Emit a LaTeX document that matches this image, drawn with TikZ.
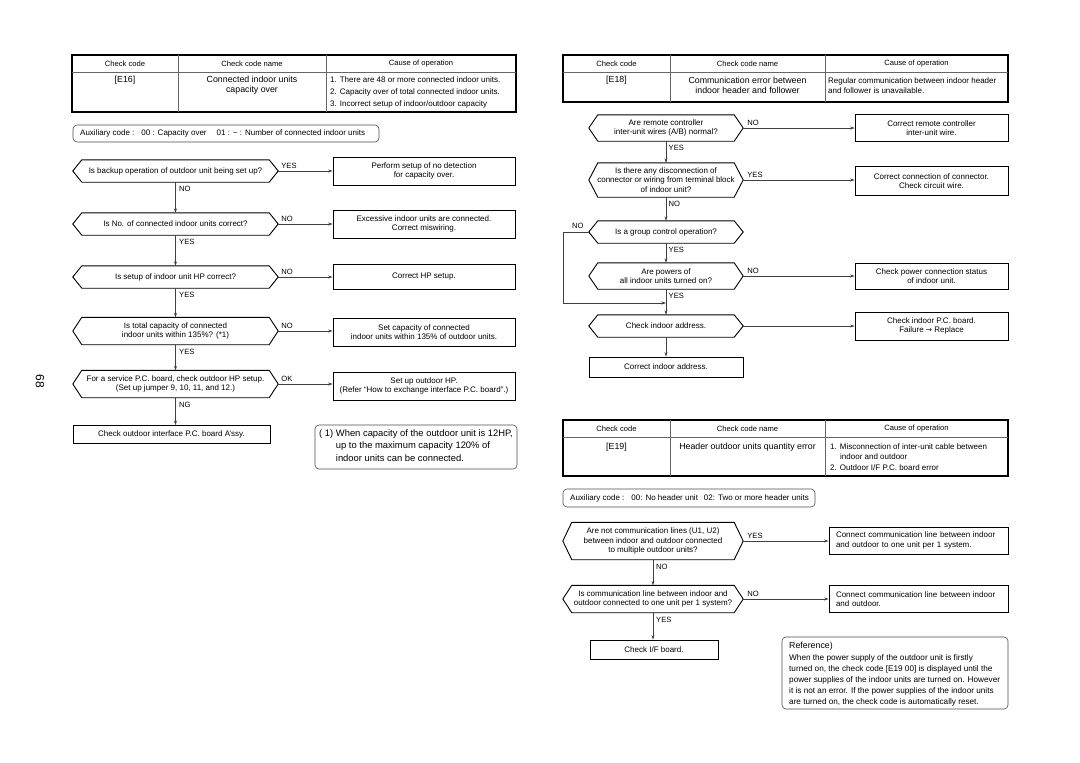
\documentclass[tikz,border=0pt]{standalone}
\usepackage{fontspec}
\setmainfont{Liberation Sans}
\newfontfamily\dejavu{DejaVu Sans}
\usetikzlibrary{arrows.meta}
\newcommand{\fa}{\fontsize{8}{9.6}\selectfont}
\newcommand{\fh}{\fontsize{7.6}{9.2}\selectfont}
\newcommand{\fb}{\fontsize{8.8}{10.4}\selectfont}
\newcommand{\fc}{\fontsize{9.4}{12.4}\selectfont}
\newcommand{\fr}{\fontsize{8.2}{11}\selectfont}
\tikzset{
 box/.style={draw, line width=0.9pt, align=center, font=\fa, inner sep=1pt},
 hexbox/.style={align=center, font=\fa, inner sep=1pt},
 hexline/.style={line width=0.9pt, line join=miter},
 conn/.style={draw=black!75, line width=0.55pt, -{Stealth[length=4.5pt,width=3pt]}},
 lbl/.style={font=\fh, inner sep=0pt},
 txt/.style={font=\fa, inner sep=0pt},
 htxt/.style={font=\fh, inner sep=0pt},
 nametxt/.style={font=\fb, inner sep=0pt, align=center},
 tabouter/.style={line width=1.1pt},
 tabinner/.style={line width=0.5pt, draw=black!60},
 rbox/.style={draw=black!70, line width=0.6pt, rounded corners=4pt},
}
\newcommand{\hexa}[5]{%
  \node[hexbox, minimum width=#3, minimum height=#4] (#1) at (#2) {#5};
  \draw[hexline] (#1.west) -- ([xshift=9pt]#1.north west) -- ([xshift=-9pt]#1.north east)
    -- (#1.east) -- ([xshift=-9pt]#1.south east) -- ([xshift=9pt]#1.south west) -- cycle;
}
\begin{document}
\begin{tikzpicture}[x=1pt,y=-1pt]
\useasboundingbox (0,0) rectangle (1080,763);

% page number
\node[rotate=-90, font=\fontsize{12}{12}\selectfont, inner sep=0pt] (pg) at (40,381) {68};

% ---------------- Left table E16
\draw[tabouter] (72,55) rectangle (516,112);
\draw[tabinner] (72,72) -- (516,72);
\draw[tabinner] (178,55) -- (178,112);
\draw[tabinner] (326,55) -- (326,112);
\node[htxt] (lh1) at (125,63.5) {Check code};
\node[htxt] (lh2) at (252,63.5) {Check code name};
\node[htxt] (lh3) at (421,63.5) {Cause of operation};
\node[nametxt] (lc1) at (125,80) {[E16]};
\node[nametxt] (lc2) at (252,85.5) {Connected indoor units\\capacity over};
\node[txt, anchor=west] (lc3) at (330,80) {1. There are 48 or more connected indoor units.};
\node[txt, anchor=west] (lc4) at (330,92) {2. Capacity over of total connected indoor units.};
\node[txt, anchor=west] (lc5) at (330,104) {3. Incorrect setup of indoor/outdoor capacity};

% aux box 1
\draw[rbox] (73,125) rectangle (379,142);
\node[txt, anchor=west] (aux1) at (80,133.5) {Auxiliary code :\hspace{7pt}00 : Capacity over\hspace{10pt}01 : \textasciitilde{} : Number of connected indoor units};

% ---------------- Left flowchart
\hexa{d1}{175.5,171}{205}{22}{Is backup operation of outdoor unit being set up?}
\node[box, minimum width=182, minimum height=28] (b1) at (424,171) {Perform setup of no detection\\for capacity over.};
\hexa{d2}{175.5,224}{205}{22}{Is No. of connected indoor units correct?}
\node[box, minimum width=182, minimum height=28] (b2) at (424,224) {Excessive indoor units are connected.\\Correct miswiring.};
\hexa{d3}{175.5,277}{205}{22}{Is setup of indoor unit HP correct?}
\node[box, minimum width=182, minimum height=25] (b3) at (424,277) {Correct HP setup.};
\hexa{d4}{175.5,331}{205}{27}{Is total capacity of connected\\indoor units within 135\%? (*1)};
\node[box, minimum width=182, minimum height=28] (b4) at (424,332) {Set capacity of connected\\indoor units within 135\% of outdoor units.};
\hexa{d5}{175.5,384}{205}{27}{For a service P.C. board, check outdoor HP setup.\\(Set up jumper 9, 10, 11, and 12.)}
\node[box, minimum width=182, minimum height=28] (b5) at (424,386) {Set up outdoor HP.\\(Refer “How to exchange interface P.C. board”.)};
\node[box, minimum width=197, minimum height=18] (b6) at (171.5,434.5) {Check outdoor interface P.C. board A’ssy.};

\draw[conn] (d1.east) -- (d1.east -| b1.west);
\draw[conn] (d2.east) -- (d2.east -| b2.west);
\draw[conn] (d3.east) -- (d3.east -| b3.west);
\draw[conn] (d4.east) -- (d4.east -| b4.west);
\draw[conn] (d5.east) -- (d5.east -| b5.west);
\draw[conn] (d1.south) -- (d2.north);
\draw[conn] (d2.south) -- (d3.north);
\draw[conn] (d3.south) -- (d4.north);
\draw[conn] (d4.south) -- (d5.north);
\draw[conn] (d5.south) -- (d5.south |- b6.north);

\node[lbl, anchor=south west] (ly1) at ([xshift=3pt,yshift=2.5pt]d1.east) {YES};
\node[lbl, anchor=south west] (ly2) at ([xshift=3pt,yshift=2.5pt]d2.east) {NO};
\node[lbl, anchor=south west] (ly3) at ([xshift=3pt,yshift=2.5pt]d3.east) {NO};
\node[lbl, anchor=south west] (ly4) at ([xshift=3pt,yshift=2.5pt]d4.east) {NO};
\node[lbl, anchor=south west] (ly5) at ([xshift=3pt,yshift=2.5pt]d5.east) {OK};
\node[lbl, anchor=north west] (lv1) at ([xshift=3.5pt,yshift=-4pt]d1.south) {NO};
\node[lbl, anchor=north west] (lv2) at ([xshift=3.5pt,yshift=-4pt]d2.south) {YES};
\node[lbl, anchor=north west] (lv3) at ([xshift=3.5pt,yshift=-4pt]d3.south) {YES};
\node[lbl, anchor=north west] (lv4) at ([xshift=3.5pt,yshift=-4pt]d4.south) {YES};
\node[lbl, anchor=north west] (lv5) at ([xshift=3.5pt,yshift=-4pt]d5.south) {NG};

% note box
\draw[rbox] (315,425) rectangle (517,469);
\node[anchor=north west, align=left, font=\fc, inner sep=0pt] (note) at (319,429.5)
 {( 1) When capacity of the outdoor unit is 12HP,\\
  \phantom{( 1) }up to the maximum capacity 120\% of\\
  \phantom{( 1) }indoor units can be connected.};

% ---------------- Right table E18
\draw[tabouter] (563,55) rectangle (1008,102);
\draw[tabinner] (563,72) -- (1008,72);
\draw[tabinner] (670,55) -- (670,102);
\draw[tabinner] (825,55) -- (825,102);
\node[htxt] (rh1) at (616.5,63.5) {Check code};
\node[htxt] (rh2) at (747.5,63.5) {Check code name};
\node[htxt] (rh3) at (916.5,63.5) {Cause of operation};
\node[nametxt] (rc1) at (616.5,80) {[E18]};
\node[nametxt] (rc2) at (747.5,85.5) {Communication error between\\indoor header and follower};
\node[txt, anchor=west, align=left] (rc3) at (828,85.5) {Regular communication between indoor header\\and follower is unavailable.};

% ---------------- Right flowchart top
\hexa{r1}{666,128}{154}{26}{Are remote controller\\inter-unit wires (A/B) normal?}
\node[box, minimum width=153, minimum height=27] (s1) at (931.5,128) {Correct remote controller\\inter-unit wire.};
\hexa{r2}{666,180}{154}{34}{Is there any disconnection of\\connector or wiring from terminal block\\of indoor unit?}
\node[box, minimum width=153, minimum height=29] (s2) at (931.5,181) {Correct connection of connector.\\Check circuit wire.};
\hexa{r3}{666,232}{154}{22}{Is a group control operation?}
\hexa{r4}{666,276}{154}{26}{Are powers of\\all indoor units turned on?}
\node[box, minimum width=153, minimum height=26] (s3) at (931.5,276) {Check power connection status\\of indoor unit.};
\coordinate (j) at (666,303);
\coordinate (lp) at (563,232);
\hexa{r5}{666,326}{154}{22}{Check indoor address.}
\node[box, minimum width=153, minimum height=28] (s4) at (931.5,326) {Check indoor P.C. board.\\Failure {\dejavu\fontsize{7.4}{9}\selectfont →} Replace};
\node[box, minimum width=154, minimum height=20] (s5) at (666,367) {Correct indoor address.};

\draw[conn] (r1.east) -- (r1.east -| s1.west);
\draw[conn] (r2.east) -- (r2.east -| s2.west);
\draw[conn] (r4.east) -- (r4.east -| s3.west);
\draw[conn] (r5.east) -- (r5.east -| s4.west);
\draw[conn] (r1.south) -- (r2.north);
\draw[conn] (r2.south) -- (r3.north);
\draw[conn] (r3.south) -- (r4.north);
\draw[conn] (r4.south) -- (r5.north);
\draw[conn] (r3.west) -- (lp) |- (j);
\draw[conn] (r5.south) -- (s5.north);

\node[lbl, anchor=south west] (my1) at ([xshift=4pt,yshift=2.5pt]r1.east) {NO};
\node[lbl, anchor=south west] (my2) at ([xshift=4pt,yshift=2.5pt]r2.east) {YES};
\node[lbl, anchor=south west] (my4) at ([xshift=4pt,yshift=2.5pt]r4.east) {NO};
\node[lbl, anchor=south east] (my3) at ([xshift=-5pt,yshift=3pt]r3.west) {NO};
\node[lbl, anchor=north west] (mv1) at ([xshift=2.5pt,yshift=-4pt]r1.south) {YES};
\node[lbl, anchor=north west] (mv2) at ([xshift=2.5pt,yshift=-4pt]r2.south) {NO};
\node[lbl, anchor=north west] (mv3) at ([xshift=2.5pt,yshift=-4pt]r3.south) {YES};
\node[lbl, anchor=north west] (mv4) at ([xshift=2.5pt,yshift=-4pt]r4.south) {YES};

% ---------------- Right table E19
\draw[tabouter] (563,420) rectangle (1008,476);
\draw[tabinner] (563,437) -- (1008,437);
\draw[tabinner] (670,420) -- (670,476);
\draw[tabinner] (825,420) -- (825,476);
\node[htxt] (eh1) at (616.5,428.5) {Check code};
\node[htxt] (eh2) at (747.5,428.5) {Check code name};
\node[htxt] (eh3) at (916.5,428.5) {Cause of operation};
\node[nametxt] (ec1) at (616.5,447) {[E19]};
\node[nametxt] (ec2) at (747.5,447) {Header outdoor units quantity error};
\node[txt, anchor=west] (ec3) at (830,447) {1. Misconnection of inter-unit cable between};
\node[txt, anchor=west] (ec4) at (840,457) {indoor and outdoor};
\node[txt, anchor=west] (ec5) at (830,468) {2. Outdoor I/F P.C. board error};

% aux box 2
\draw[rbox] (563,489) rectangle (815,507);
\node[txt, anchor=west] (aux2) at (570,498) {Auxiliary code :\hspace{7pt}00: No header unit\hspace{6pt}02: Two or more header units};

% ---------------- Right bottom flowchart
\hexa{q1}{653,541}{180}{37}{Are not communication lines (U1, U2)\\between indoor and outdoor connected\\to multiple outdoor units?}
\node[box, text width=165pt, align=left, inner xsep=7pt, minimum height=27] (t1) at (918.5,540.5) {Connect communication line between indoor\\and outdoor to one unit per 1 system.};
\hexa{q2}{653,599}{180}{27}{Is communication line between indoor and\\outdoor connected to one unit per 1 system?}
\node[box, text width=165pt, align=left, inner xsep=7pt, minimum height=27] (t2) at (918.5,599) {Connect communication line between indoor\\and outdoor.};
\node[box, minimum width=128, minimum height=19] (t3) at (654,649.5) {Check I/F board.};

\draw[conn] (q1.east) -- (q1.east -| t1.west);
\draw[conn] (q2.east) -- (q2.east -| t2.west);
\draw[conn] (q1.south) -- (q2.north);
\draw[conn] (q2.south) -- (q2.south |- t3.north);

\node[lbl, anchor=south west] (ny1) at ([xshift=4pt,yshift=2.5pt]q1.east) {YES};
\node[lbl, anchor=south west] (ny2) at ([xshift=4pt,yshift=2.5pt]q2.east) {NO};
\node[lbl, anchor=north west] (nv1) at ([xshift=3pt,yshift=-4pt]q1.south) {NO};
\node[lbl, anchor=north west] (nv2) at ([xshift=3pt,yshift=-4pt]q2.south) {YES};

% reference box
\draw[rbox] (782,637) rectangle (1008,709);
\node[anchor=north west, align=left, inner sep=0pt, font=\fr] (ref) at (789,642)
 {{\fb Reference)}\\[0.5pt]
  When the power supply of the outdoor unit is firstly\\
  turned on, the check code [E19 00] is displayed until the\\
  power supplies of the indoor units are turned on. However\\
  it is not an error. If the power supplies of the indoor units\\
  are turned on, the check code is automatically reset.};

\end{tikzpicture}
\end{document}
